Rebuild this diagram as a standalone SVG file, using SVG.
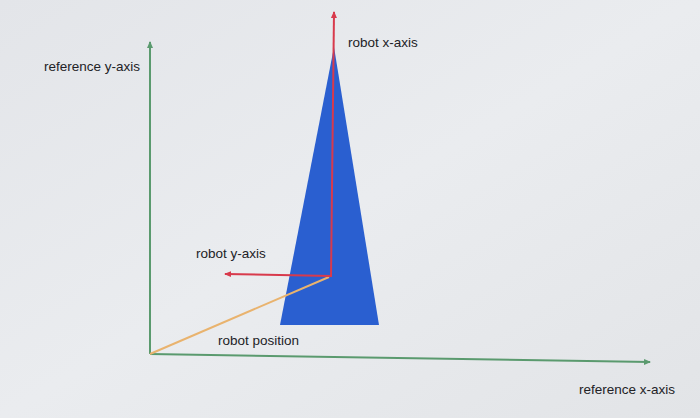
<svg xmlns="http://www.w3.org/2000/svg" width="700" height="418" viewBox="0 0 700 418">
<defs>
<linearGradient id="bg" x1="0" y1="0" x2="1" y2="1">
<stop offset="0" stop-color="#e3e5e9"/>
<stop offset="0.5" stop-color="#eaecef"/>
<stop offset="1" stop-color="#e2e4e7"/>
</linearGradient>
<marker id="ag" markerWidth="8" markerHeight="8" refX="6" refY="4" orient="auto" markerUnits="userSpaceOnUse"><path d="M0,1 L7,4 L0,7 Z" fill="#5a9a6e"/></marker>
<marker id="ar" markerWidth="8" markerHeight="8" refX="6" refY="4" orient="auto" markerUnits="userSpaceOnUse"><path d="M0,1 L7,4 L0,7 Z" fill="#d83a4c"/></marker>
</defs>
<style>
text{font-family:"Liberation Sans",Arial,sans-serif;font-size:13.5px;fill:#222226}
.g{stroke:#5a9a6e;stroke-width:2;fill:none;marker-end:url(#ag)}
.r{stroke:#d83a4c;stroke-width:2;fill:none;marker-end:url(#ar)}
</style>
<rect width="700" height="418" fill="url(#bg)"/>
<g id="robot">
<polygon points="334,47 280,325 379,325" fill="#2a5fd0"/>
</g>
<g id="connectors">
<line class="g" x1="150" y1="354" x2="150" y2="42"/>
<line class="g" x1="150" y1="354" x2="650" y2="362"/>
<line x1="150" y1="354" x2="329" y2="277" stroke="#e9b36e" stroke-width="2"/>
<line class="r" x1="331" y1="277" x2="334" y2="12"/>
<line class="r" x1="331" y1="276" x2="225" y2="274"/>
</g>
<g id="labels">
<text x="348" y="47">robot x-axis</text>
<text x="44" y="71">reference y-axis</text>
<text x="196" y="258">robot y-axis</text>
<text x="218" y="345">robot position</text>
<text x="579" y="394">reference x-axis</text>
</g>
</svg>
